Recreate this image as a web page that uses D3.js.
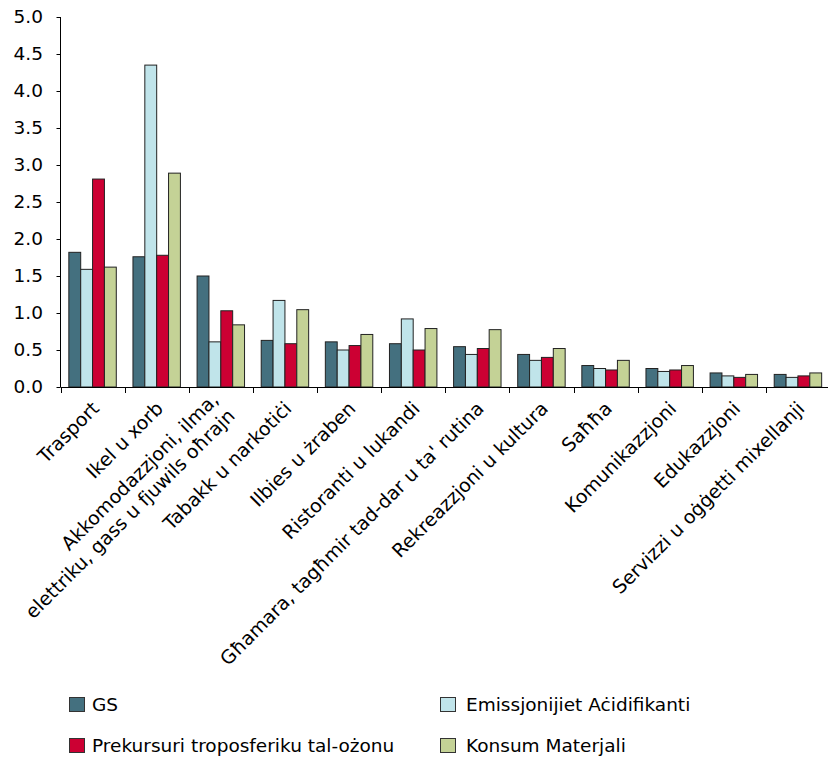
<!DOCTYPE html>
<html>
<head>
<meta charset="utf-8">
<script src="https://cdn.jsdelivr.net/npm/d3@7"></script>
<style>
  html, body { margin: 0; padding: 0; background: #fff; }
  svg { display: block; }
  text { font-family: "DejaVu Sans", Verdana, sans-serif; fill: #000; }
</style>
</head>
<body>
<svg id="chart" width="828" height="757"></svg>
<script>
const categories = [
  ["Trasport"],
  ["Ikel u xorb"],
  ["Akkomodazzjoni, ilma,", "elettriku, gass u fjuwils oħrajn"],
  ["Tabakk u narkotiċi"],
  ["Ilbies u żraben"],
  ["Ristoranti u lukandi"],
  ["Għamara, tagħmir tad-dar u ta' rutina"],
  ["Rekreazzjoni u kultura"],
  ["Saħħa"],
  ["Komunikazzjoni"],
  ["Edukazzjoni"],
  ["Servizzi u oġġetti mixellanji"]
];
const seriesNames = ["GS", "Emissjonijiet Aċidifikanti", "Prekursuri troposferiku tal-ożonu", "Konsum Materjali"];
const seriesColors = ["#44707F", "#C0E4EA", "#CC0033", "#C4D296"];
const gsValues     = [1.82, 1.76, 1.50, 0.63, 0.61, 0.585, 0.545, 0.44, 0.29, 0.25, 0.19, 0.17];
const acidValues   = [1.59, 4.35, 0.61, 1.17, 0.50, 0.92, 0.44, 0.36, 0.25, 0.21, 0.15, 0.13];
const ozoneValues  = [2.81, 1.78, 1.03, 0.585, 0.56, 0.50, 0.52, 0.40, 0.23, 0.23, 0.13, 0.15];
const materValues  = [1.62, 2.89, 0.84, 1.045, 0.71, 0.79, 0.775, 0.52, 0.36, 0.29, 0.17, 0.19];
const yTicks = [0, 0.5, 1, 1.5, 2, 2.5, 3, 3.5, 4, 4.5, 5];

const seriesValues = [gsValues, acidValues, ozoneValues, materValues];
const svg = d3.select("#chart");

const mLeft = 60.5, mRight = 830, mTop = 17, mBottom = 387;
const catIdx = categories.map((d, i) => i);
const x0 = d3.scaleBand().domain(catIdx).range([mLeft, mRight]).padding(0);
const bw = x0.bandwidth();
const x1 = d3.scaleBand().domain(d3.range(4)).range([bw * 0.13, bw * 0.87]).padding(0);
const y = d3.scaleLinear().domain([0, 5]).range([mBottom, mTop]);

// bars
const groups = svg.append("g").selectAll("g").data(catIdx).join("g")
  .attr("transform", i => `translate(${x0(i)},0)`);
groups.selectAll("rect").data(i => seriesValues.map((vals, s) => ({ s, v: vals[i] })))
  .join("rect")
  .attr("x", d => x1(d.s))
  .attr("y", d => y(d.v))
  .attr("width", x1.bandwidth())
  .attr("height", d => y(0) - y(d.v))
  .attr("fill", d => seriesColors[d.s])
  .attr("stroke", "#222")
  .attr("stroke-width", 1);

// y axis
const yAxis = svg.append("g").attr("transform", `translate(${mLeft},0)`)
  .call(d3.axisLeft(y).tickValues(yTicks).tickFormat(d3.format(".1f")).tickSize(4).tickPadding(13.5));
yAxis.select(".domain").attr("stroke", "#000").attr("d", `M0,${mTop}V${mBottom}`);
yAxis.selectAll(".tick line").attr("stroke", "#000");
yAxis.selectAll(".tick text").attr("font-size", null).attr("font-family", null)
  .style("font-size", "18.5px").style("font-family", "'DejaVu Sans', sans-serif");

// x axis (ticks at band boundaries)
const boundaries = d3.range(categories.length + 1).map(i => mLeft + i * bw);
svg.append("line").attr("x1", mLeft).attr("x2", 828).attr("y1", mBottom + 0.5).attr("y2", mBottom + 0.5)
  .attr("stroke", "#000").attr("stroke-width", 1);
svg.append("g").selectAll("line").data(boundaries).join("line")
  .attr("x1", d => Math.round(d) + 0.5).attr("x2", d => Math.round(d) + 0.5)
  .attr("y1", mBottom).attr("y2", mBottom + 6)
  .attr("stroke", "#000");

// category labels
const lbl = svg.append("g").selectAll("text").data(catIdx).join("text")
  .attr("text-anchor", "end")
  .style("font-size", "19px")
  .attr("transform", i => `translate(${x0(i) + bw / 2 + 3},${mBottom + 18}) rotate(-45)`);
lbl.each(function(i) {
  const lines = categories[i];
  const t = d3.select(this);
  if (lines.length === 1) {
    t.append("tspan").attr("x", 0).attr("dy", "0.35em").text(lines[0]);
  } else {
    t.append("tspan").attr("x", 0).attr("dy", "-0.3em").text(lines[0]);
    t.append("tspan").attr("x", 0).attr("dy", "1.2em").text(lines[1]);
  }
});

// legend
const legendPos = [[69, 705], [440, 705], [69, 746], [440, 746]];
const leg = svg.append("g").selectAll("g").data(seriesNames).join("g")
  .attr("transform", (d, i) => `translate(${legendPos[i][0]},${legendPos[i][1]})`);
leg.append("rect").attr("x", 0.5).attr("y", -7.5).attr("width", 15).attr("height", 14)
  .attr("fill", (d, i) => seriesColors[i]).attr("stroke", "#333");
leg.append("text").attr("x", (d, i) => i % 2 === 0 ? 23 : 26).attr("y", 0).attr("dy", "0.35em")
  .style("font-size", "18.5px").text(d => d);
</script>
</body>
</html>
